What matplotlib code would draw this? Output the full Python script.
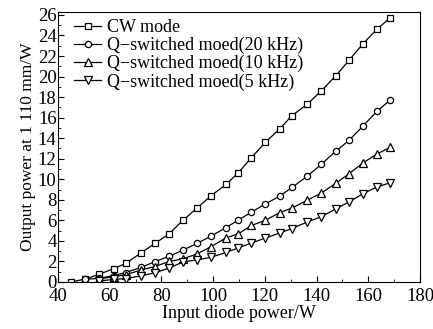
import numpy as np
import matplotlib
matplotlib.use("Agg")
import matplotlib.pyplot as plt
from matplotlib.ticker import MultipleLocator

plt.rcParams['font.family'] = ['Liberation Serif', 'DejaVu Serif']

# input diode power (W)
x_cw = [45, 50.5, 56, 61.5, 66.2, 72.2, 77.5, 83, 88.3, 93.8, 99.2, 105, 109.6,
        114.8, 120.2, 125.7, 130.5, 136.4, 141.8, 147.5, 152.6, 158, 163.3, 168.4]
y_cw = [0, 0.28, 0.75, 1.3, 1.8, 2.85, 3.75, 4.7, 6.0, 7.2, 8.4, 9.5, 10.6,
        12.1, 13.6, 14.9, 16.2, 17.3, 18.6, 20.1, 21.6, 23.2, 24.6, 25.7]

x_20k = x_cw[1:]
y_20k = [0.25, 0.36, 0.62, 0.92, 1.42, 1.98, 2.5, 3.1, 3.76, 4.46, 5.3, 6.0,
         6.8, 7.6, 8.35, 9.2, 10.3, 11.45, 12.75, 13.8, 15.2, 16.6, 17.7]

x_10k = x_cw[2:]
y_10k = [0.3, 0.52, 0.7, 1.17, 1.5, 2.0, 2.25, 2.73, 3.44, 4.3, 4.67, 5.5,
         6.0, 6.75, 7.2, 7.96, 8.65, 9.62, 10.55, 11.6, 12.45, 13.1]

x_5k = x_cw[2:]
y_5k = [0.1, 0.25, 0.33, 0.6, 0.9, 1.35, 1.95, 2.15, 2.4, 2.88, 3.3, 3.8,
        4.27, 4.77, 5.2, 5.84, 6.35, 7.12, 7.8, 8.6, 9.25, 9.65]

labels = ["CW mode", "Q\u2212switched moed(20 kHz)",
          "Q\u2212switched moed(10 kHz)", "Q\u2212switched moed(5 kHz)"]

fig = plt.figure(figsize=(4.33, 3.29), dpi=100)
ax = fig.add_axes([0.134, 0.143, 0.836, 0.821])

style = dict(color="black", lw=0.9, mfc="white", mec="black", mew=0.9)
ax.plot(x_cw, y_cw, marker="s", ms=4, label=labels[0], **style)
ax.plot(x_20k, y_20k, marker="o", ms=4.5, label=labels[1], **style)
ax.plot(x_10k, y_10k, marker="^", ms=6, label=labels[2], **style)
ax.plot(x_5k, y_5k, marker="v", ms=6, label=labels[3], **style)

ax.set_xlim(40, 180)
ax.set_ylim(0, 26.3)
ax.xaxis.set_major_locator(MultipleLocator(20))
ax.xaxis.set_minor_locator(MultipleLocator(10))
ax.yaxis.set_major_locator(MultipleLocator(2))
ax.yaxis.set_minor_locator(MultipleLocator(1))
ax.tick_params(which="both", direction="in", top=False, right=False,
               labelsize=13.5)
ax.tick_params(axis="y", pad=1)
ax.tick_params(axis="x", pad=4)
ax.tick_params(which="major", length=4)
ax.tick_params(which="minor", length=2)

ax.set_xlabel("Input diode power/W", fontsize=13, labelpad=0)
ax.set_ylabel("Output power at 1 110 mm/W", fontsize=12.5, labelpad=1)

ax.legend(loc="upper left", frameon=False, fontsize=13, handlelength=1.5,
          handletextpad=0.3, labelspacing=0.05, borderaxespad=0.0,
          bbox_to_anchor=(0.025, 1.0))

fig.savefig("out.png", dpi=100)
